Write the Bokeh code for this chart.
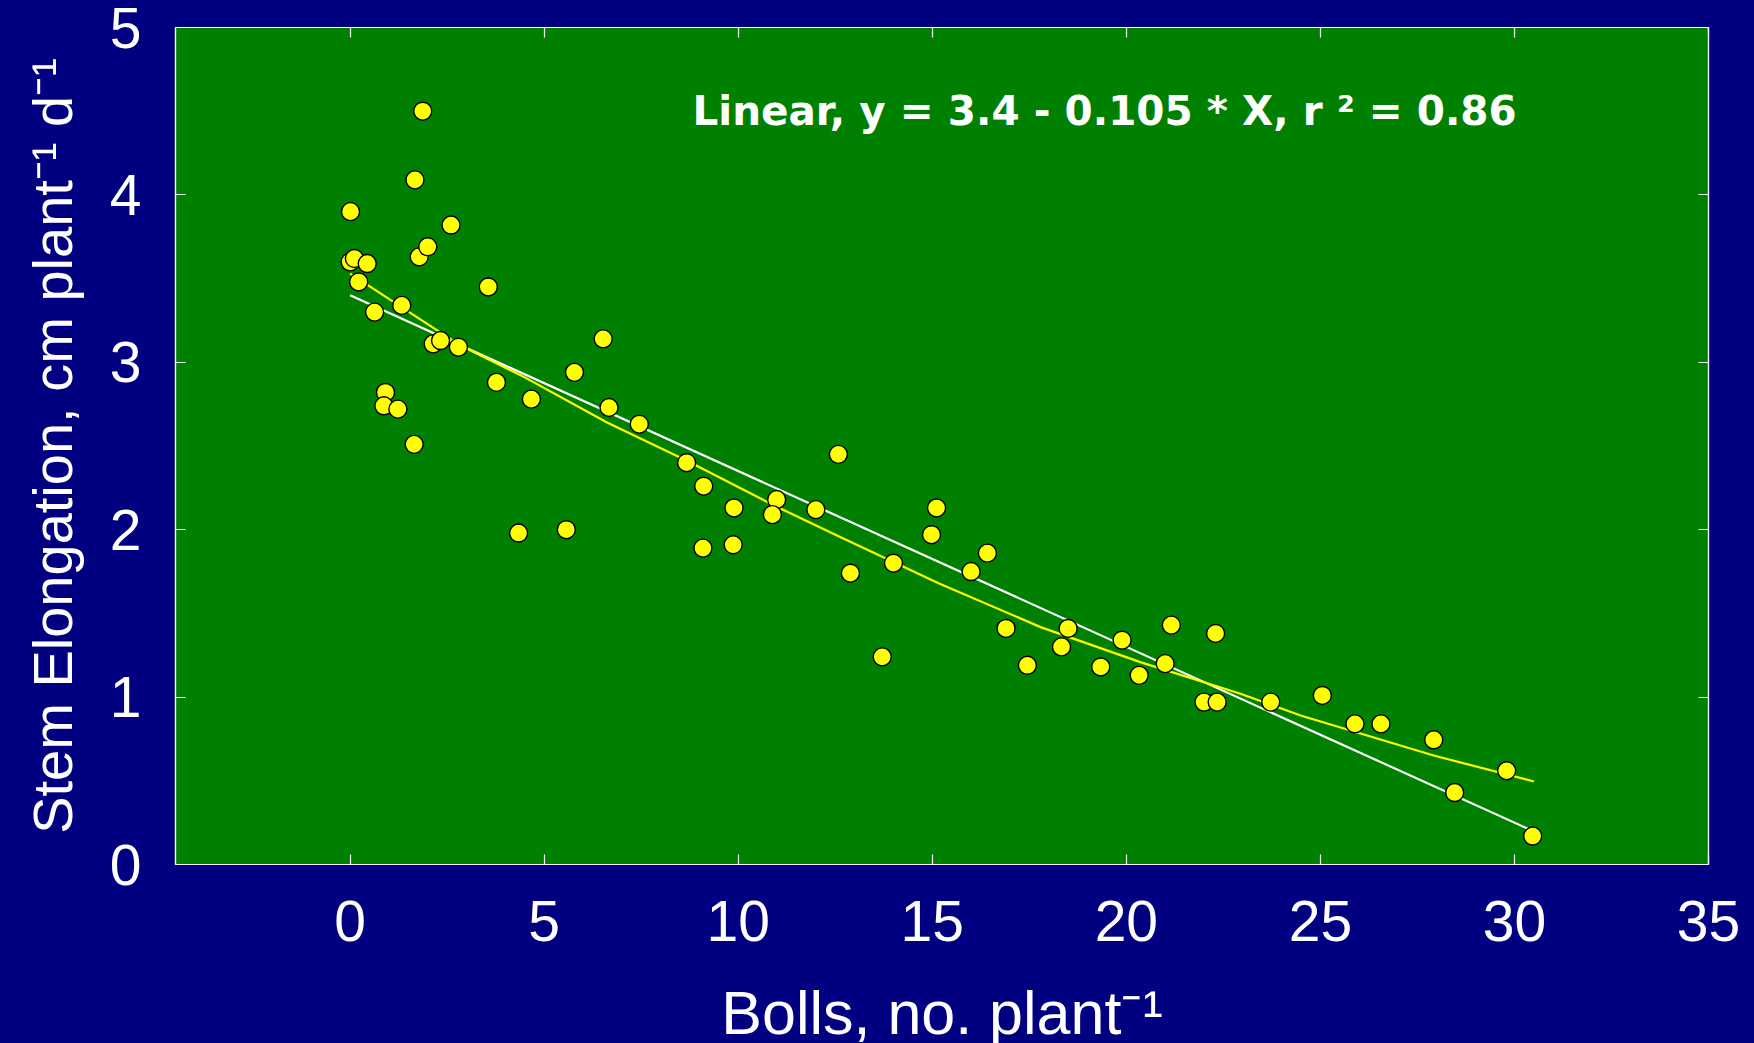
from bokeh.plotting import figure
from bokeh.models import Range1d, FixedTicker, LinearAxis, Label
from bokeh.embed import file_html
from bokeh.resources import INLINE

# ---------------- data ----------------
bolls = [0.01, 0.00, 0.11, 0.44, 0.22, 0.63, 0.91, 0.87, 1.23, 1.65,
         1.33, 1.87, 1.67, 1.78, 2.00, 2.60, 2.14, 2.33, 2.79, 3.56,
         3.77, 4.34, 4.67, 5.57, 5.78, 6.52, 6.67, 7.45, 8.67, 9.11,
         9.09, 9.89, 9.87, 10.99, 10.88, 12.00, 12.58, 12.89, 13.71, 14.00,
         14.98, 15.11, 16.00, 16.42, 16.90, 17.45, 18.33, 18.50, 19.34, 19.89,
         20.33, 21.00, 21.16, 22.00, 22.30, 22.34, 23.72, 25.05, 25.89, 26.56,
         27.92, 28.46, 29.80, 30.47]
elong = [3.90, 3.60, 3.62, 3.59, 3.48, 3.30, 2.82, 2.74, 2.72, 2.51,
         3.34, 4.50, 4.09, 3.63, 3.69, 3.82, 3.11, 3.13, 3.09, 3.45,
         2.88, 1.98, 2.78, 2.00, 2.94, 3.14, 2.73, 2.63, 2.40, 2.26,
         1.89, 2.13, 1.91, 2.18, 2.09, 2.12, 2.45, 1.74, 1.24, 1.80,
         1.97, 2.13, 1.75, 1.86, 1.41, 1.19, 1.30, 1.41, 1.18, 1.34,
         1.13, 1.20, 1.43, 0.97, 1.38, 0.97, 0.97, 1.01, 0.84, 0.84,
         0.745, 0.43, 0.56, 0.17]

# linear regression shown in the annotation: y = 3.4 - 0.105 * X
lin_intercept = 3.4
lin_slope = -0.105
lin_x = [0.0, 30.45]
lin_y = [lin_intercept + lin_slope * v for v in lin_x]

# yellow fitted curve
curve_x = [0.0, 2.845, 4.5, 6.62, 8.69, 10.92, 12.64, 15.19, 17.79, 20.36,
           22.94, 24.49, 27.92, 30.50]
curve_y = [3.53, 3.10, 2.91, 2.64, 2.41, 2.145, 1.955, 1.677, 1.418, 1.209,
           1.02, 0.89, 0.651, 0.496]

x_ticks = [0, 5, 10, 15, 20, 25, 30, 35]
y_ticks = [0, 1, 2, 3, 4, 5]

annotation = "Linear, y = 3.4 - 0.105 * X, r \u00b2 = 0.86"
x_title = "Bolls, no. plant\u207b\u00b9"
y_title = "Stem Elongation, cm plant\u207b\u00b9 d\u207b\u00b9"

# ---------------- styling / layout ----------------
NAVY = "#000080"
GREEN = "#008000"
YELLOW = "#ffff00"
FONT = "Liberation Sans"

X0, X1 = -4.5, 35.0
Y0, Y1 = 0.0, 5.0
FW, FH = 1533, 837                  # frame size
ML, MR, MT, MB = 175, 46, 27, 179   # borders around the frame
FL, FR, FT, FB = ML, ML + FW, MT, MT + FH


def px2x(px):
    return X0 + (px - FL) / (FR - FL) * (X1 - X0)


def py2y(py):
    return Y0 + (FB - py) / (FB - FT) * (Y1 - Y0)


p = figure(frame_width=FW, frame_height=FH,
           x_range=Range1d(X0, X1), y_range=Range1d(Y0, Y1),
           output_backend="svg", toolbar_location=None,
           min_border_left=ML, min_border_right=MR, min_border_top=MT, min_border_bottom=MB,
           background_fill_color=GREEN, border_fill_color=NAVY,
           outline_line_color="white", outline_line_width=1.2)
p.grid.visible = False


def style_axis(ax, show_labels):
    ax.axis_line_color = "white"
    ax.axis_line_width = 1.2
    ax.major_tick_line_color = "white"
    ax.major_tick_line_width = 1.2
    ax.major_tick_in = 10
    ax.major_tick_out = 0
    ax.minor_tick_line_color = None
    if show_labels:
        ax.major_label_text_color = "white"
        ax.major_label_text_font = FONT
        ax.major_label_text_font_size = "57px"
        ax.axis_label_text_color = "white"
        ax.axis_label_text_font = FONT
        ax.axis_label_text_font_style = "normal"
    else:
        ax.major_label_text_font_size = "0px"
        ax.major_label_text_color = None
        ax.major_label_standoff = 0


p.xaxis.ticker = FixedTicker(ticks=x_ticks)
p.yaxis.ticker = FixedTicker(ticks=y_ticks)
style_axis(p.xaxis[0], True)
style_axis(p.yaxis[0], True)
p.xaxis.major_label_standoff = 36
p.yaxis.major_label_standoff = 34

p.xaxis.axis_label = x_title
p.xaxis.axis_label_text_font_size = "61px"
p.xaxis.axis_label_standoff = 35
p.yaxis.axis_label = y_title
p.yaxis.axis_label_text_font_size = "56px"
p.yaxis.axis_label_standoff = 23

top_ax = LinearAxis(ticker=FixedTicker(ticks=x_ticks))
right_ax = LinearAxis(ticker=FixedTicker(ticks=y_ticks))
style_axis(top_ax, False)
style_axis(right_ax, False)
p.add_layout(top_ax, "above")
p.add_layout(right_ax, "right")

# regression line and fitted curve
p.line(lin_x, lin_y, line_color="white", line_width=2.2)
p.line(curve_x, curve_y, line_color=YELLOW, line_width=2.2)

# observations
p.scatter(bolls, elong, size=18, fill_color=YELLOW, line_color="black", line_width=1.4)

# annotation inside the frame
p.add_layout(Label(x=px2x(692), y=py2y(110), text=annotation, text_color="white",
                   text_font="DejaVu Sans", text_font_style="bold", text_font_size="40.5px",
                   text_align="left", text_baseline="alphabetic"))

html = file_html(p, INLINE)
html = html.replace("</head>",
                    "<style>html, body { background-color: #000080; overflow: hidden; }</style></head>", 1)
open("out.html", "w").write(html)
